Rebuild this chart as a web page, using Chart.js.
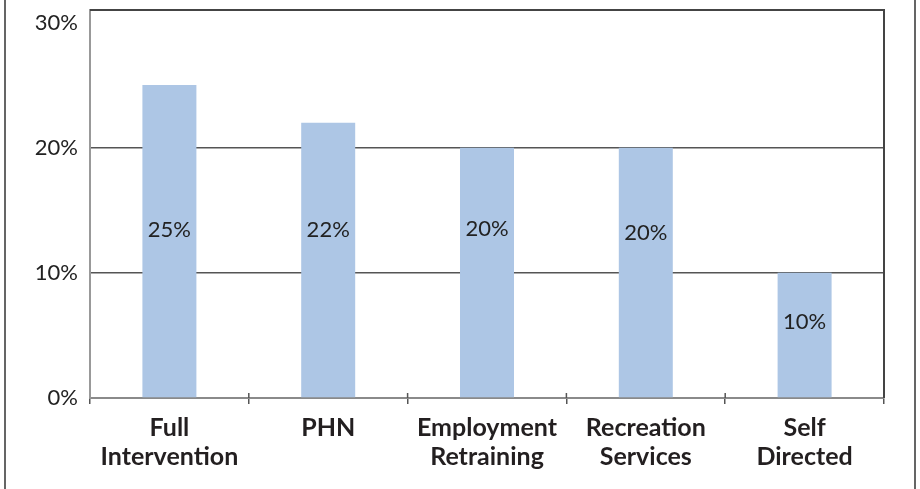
<!DOCTYPE html>
<html lang="en">
<head>
    <meta charset="UTF-8">
    <title>Program Share</title>
    <script src="https://cdn.jsdelivr.net/npm/chart.js"></script>
    <style>
        html, body { margin: 0; padding: 0; background: #fff; }
        #wrap { width: 920px; height: 489px; }
    </style>
</head>
<body>
    <div id="wrap"><canvas id="shareChart" width="920" height="489"></canvas></div>

    <script>
        // Share of participants by program
        const categories = [["Full", "Intervention"], ["PHN"], ["Employment", "Retraining"], ["Recreation", "Services"], ["Self", "Directed"]];
        const shares = [25, 22, 20, 20, 10];
        const yTicks = [0, 10, 20, 30];

        // where each value label sits, in axis units
        const labelAt = [13.4, 13.4, 13.5, 13.2, 6.1];

        const textFont = "Lato, 'DejaVu Sans', sans-serif";

        // frame lines, plot border, tick marks and the in-bar value labels
        const decor = {
            id: "decor",
            afterDraw(chart) {
                const ctx = chart.ctx;
                const a = chart.chartArea;
                ctx.save();
                ctx.strokeStyle = "#333";
                ctx.lineWidth = 1.5;
                ctx.beginPath();
                ctx.moveTo(5, 0); ctx.lineTo(5, chart.height);
                ctx.moveTo(915, 0); ctx.lineTo(915, chart.height);
                ctx.stroke();

                ctx.strokeStyle = "#444";
                ctx.lineWidth = 2;
                ctx.beginPath();
                ctx.moveTo(a.left, a.top); ctx.lineTo(a.right, a.top); ctx.lineTo(a.right, a.bottom);
                ctx.stroke();

                // short upward part of the category separators
                const x = chart.scales.x;
                ctx.strokeStyle = "#555";
                ctx.lineWidth = 1.5;
                ctx.beginPath();
                for (let i = 1; i < categories.length; i++) {
                    const px = (x.getPixelForTick(i - 1) + x.getPixelForTick(i)) / 2;
                    ctx.moveTo(px, a.bottom - 5); ctx.lineTo(px, a.bottom);
                }
                ctx.stroke();

                const y = chart.scales.y;
                const meta = chart.getDatasetMeta(0);
                ctx.fillStyle = "#222";
                ctx.font = "22px " + textFont;
                ctx.textAlign = "center";
                ctx.textBaseline = "middle";
                meta.data.forEach((bar, i) => {
                    ctx.fillText(shares[i] + "%", bar.x, y.getPixelForValue(labelAt[i]));
                });
                ctx.restore();
            }
        };

        new Chart(document.getElementById("shareChart"), {
            type: "bar",
            data: {
                labels: categories,
                datasets: [{
                    data: shares,
                    backgroundColor: "#adc6e5",
                    barPercentage: 0.34,
                    categoryPercentage: 1
                }]
            },
            options: {
                responsive: false,
                animation: false,
                layout: { padding: { top: 10, right: 36, left: 0, bottom: 0 } },
                plugins: { legend: { display: false }, tooltip: { enabled: false } },
                scales: {
                    x: {
                        grid: { drawOnChartArea: false, drawTicks: true, tickLength: 6, color: "#555", lineWidth: 1.5 },
                        border: { color: "#8a8a8a", width: 2 },
                        ticks: {
                            color: "#231f20",
                            padding: 9,
                            maxRotation: 0,
                            autoSkip: false,
                            font: { family: textFont, size: 25, weight: "bold", lineHeight: 1.16 }
                        },
                        afterFit(scale) { scale.height = 91; scale.paddingLeft = 0; scale.paddingRight = 0; }
                    },
                    y: {
                        min: 0,
                        max: 31,
                        afterBuildTicks(scale) { scale.ticks = yTicks.map(v => ({ value: v })); },
                        grid: {
                            drawTicks: false,
                            color: ctx => (ctx.tick && (ctx.tick.value === 10 || ctx.tick.value === 20)) ? "#555" : "rgba(0,0,0,0)",
                            lineWidth: 1.5
                        },
                        border: { color: "#999", width: 2 },
                        ticks: {
                            color: "#222",
                            padding: 12,
                            callback: v => v + "%",
                            font: { family: textFont, size: 22 }
                        },
                        afterFit(scale) { scale.width = 90; scale.paddingTop = 0; scale.paddingBottom = 0; }
                    }
                }
            },
            plugins: [decor]
        });
    </script>
</body>
</html>
